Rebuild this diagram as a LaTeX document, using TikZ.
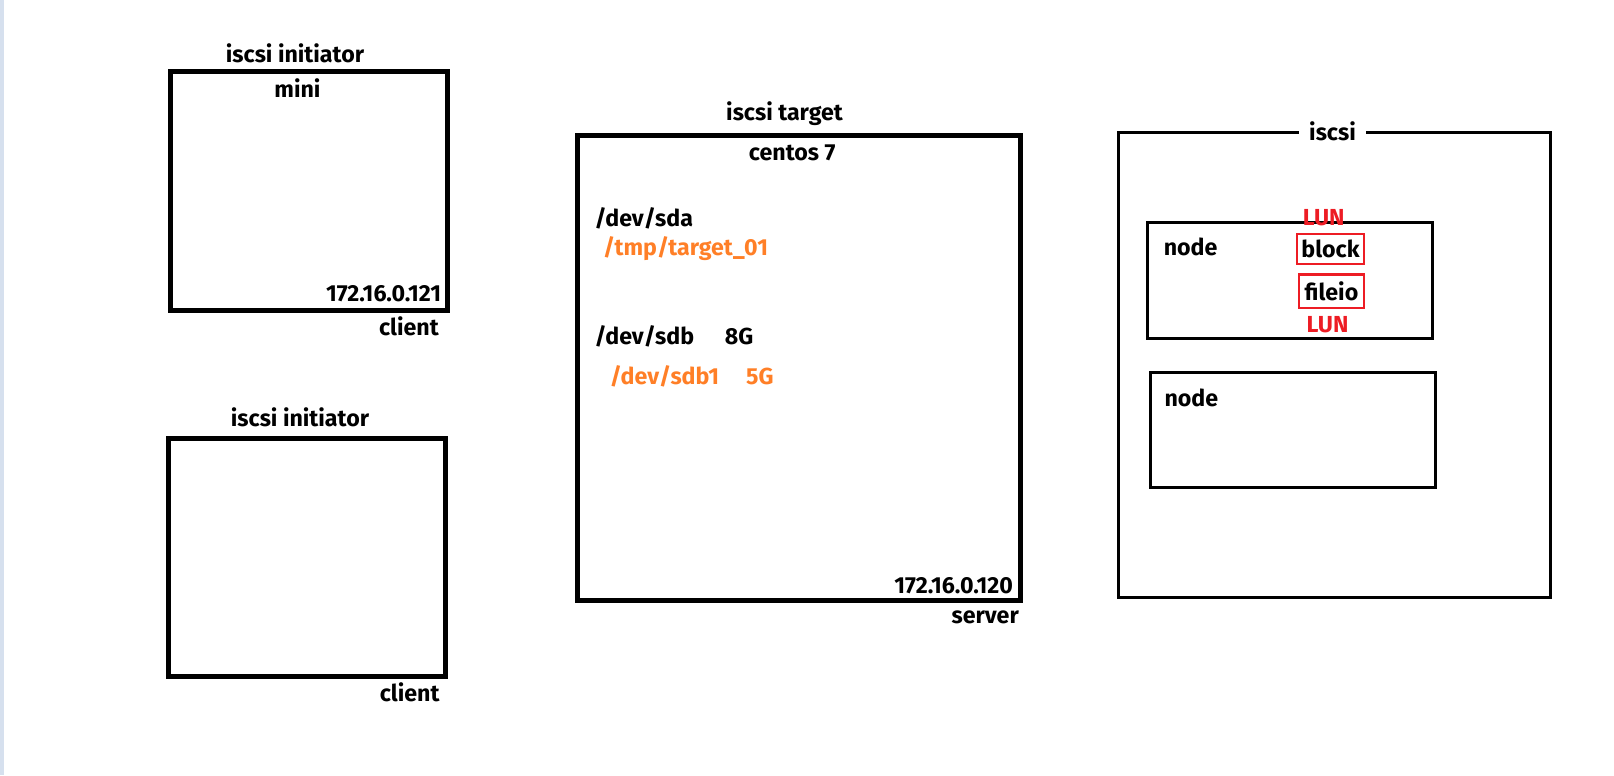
\documentclass[tikz,border=0pt]{standalone}
\usepackage{fontspec}
\setmainfont{Fira Sans}
\definecolor{devorange}{RGB}{255,127,39}
\definecolor{lunred}{RGB}{237,28,36}
\definecolor{stripblue}{RGB}{214,224,238}

\tikzset{every picture/.style={line width=0.75pt}}

\begin{document}
\begin{tikzpicture}[x=0.75pt,y=0.75pt,yscale=-1,xscale=1,
  lbl/.style={inner sep=0pt,font=\bfseries\fontsize{17.4}{21}\selectfont},
  hostbox/.style={line width=3.75pt},
  groupbox/.style={line width=2.25pt},
  lunbox/.style={draw=lunred,line width=1.75pt,inner sep=0pt,font=\bfseries\fontsize{17.4}{21}\selectfont}]
\useasboundingbox (0,0) rectangle (1614,775);
\fill [stripblue] (0,0) rectangle (4,775);

%Client box (top)
\draw [hostbox] (170.8,71.8) rectangle (447.3,310.2);
% Text Node
\node (initA) at (295,62) [lbl,anchor=base] {iscsi initiator};
% Text Node
\node (mini) at (297.5,97) [lbl,anchor=base] {mini};
% Text Node
\node (ipA) at (441.7,301.7) [lbl,anchor=base east] {172.16.0.121};
% Text Node
\node (clientA) at (439.3,335) [lbl,anchor=base east] {client};

%Client box (bottom)
\draw [hostbox] (168.5,438.5) rectangle (445.2,676.8);
% Text Node
\node (initB) at (300,426.7) [lbl,anchor=base] {iscsi initiator};
% Text Node
\node (clientB) at (440,701.7) [lbl,anchor=base east] {client};

%Server box
\draw [hostbox] (577.5,135.2) rectangle (1020.8,600.8);
% Text Node
\node (target) at (784.5,120.7) [lbl,anchor=base] {iscsi target};
% Text Node
\node (centos) at (792.2,160.7) [lbl,anchor=base] {centos 7};
% Text Node
\node (sda) at (594,226) [lbl,anchor=base west] {/dev/sda};
% Text Node
\node (tmpfile) at (602.7,255) [lbl,anchor=base west,text=devorange] {/tmp/target\_01};
% Text Node
\node (sdb) at (594,344) [lbl,anchor=base west] {/dev/sdb};
% Text Node
\node (sdbsize) at (724.3,344) [lbl,anchor=base west] {8G};
% Text Node
\node (sdbone) at (609.3,384.3) [lbl,anchor=base west,text=devorange] {/dev/sdb1};
% Text Node
\node (sdbonesize) at (745.7,384.3) [lbl,anchor=base west,text=devorange] {5G};
% Text Node
\node (ipC) at (1013.3,593.3) [lbl,anchor=base east] {172.16.0.120};
% Text Node
\node (server) at (1019.3,623.3) [lbl,anchor=base east] {server};

%iscsi group box
\draw [groupbox] (1118.3,132.3) rectangle (1550.3,597);
% Text Node
\node (iscsi) at (1332.5,140.7) [lbl,anchor=base,fill=white,inner xsep=7.5pt,inner ysep=1pt] {iscsi};

%Node box (upper)
\draw [groupbox] (1147.3,222.7) rectangle (1432.3,338.3);
% Text Node
\node (nodeA) at (1163.3,255.7) [lbl,anchor=base west] {node};
% Text Node
\node (lunA) at (1323.7,225) [lbl,anchor=base,text=lunred] {LUN};
\node (block) at (1330.5,249.2) [lunbox,minimum width=50pt,minimum height=22.4pt] {block};
\node (fileio) at (1331.5,291.2) [lunbox,minimum width=48.5pt,minimum height=25pt] {fileio};
% Text Node
\node (lunB) at (1327.5,332.7) [lbl,anchor=base,text=lunred] {LUN};

%Node box (lower)
\draw [groupbox] (1150.3,372) rectangle (1435.7,487.3);
% Text Node
\node (nodeB) at (1164,406.7) [lbl,anchor=base west] {node};

\end{tikzpicture}
\end{document}
